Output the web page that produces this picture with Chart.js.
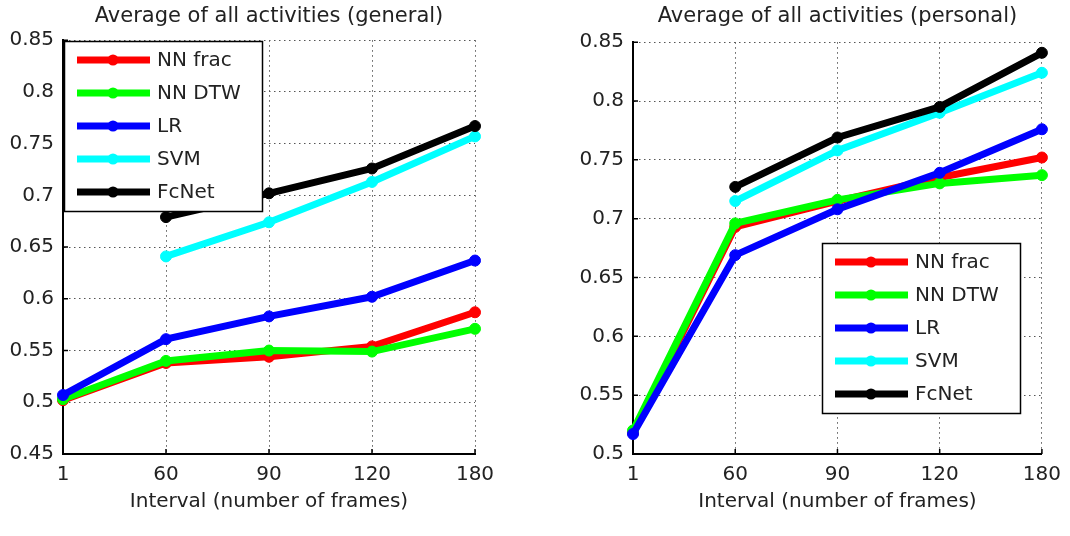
<!DOCTYPE html>
<html lang="en">
<head>
    <meta charset="UTF-8">
    <title>Average of all activities</title>
    <script src="https://cdn.jsdelivr.net/npm/chart.js"></script>
    <style>
        body { margin: 0; background: #fff; }
        .panel { position: absolute; top: 0; width: 535px; height: 536px; }
    </style>
</head>
<body>
    <div class="panel" style="left:0"><canvas id="generalChart"></canvas></div>
    <div class="panel" style="left:535px"><canvas id="personalChart"></canvas></div>

    <script>
        // Interval values (x axis categories)
        const intervals = ["1", "60", "90", "120", "180"];
        const seriesNames = ["NN frac", "NN DTW", "LR", "SVM", "FcNet"];
        const seriesColors = ["#ff0000", "#00ff00", "#0000ff", "#00ffff", "#000000"];

        // General model
        const generalNNfrac = [0.502, 0.538, 0.544, 0.554, 0.587];
        const generalNNdtw  = [0.503, 0.540, 0.550, 0.549, 0.571];
        const generalLR     = [0.507, 0.561, 0.583, 0.602, 0.637];
        const generalSVM    = [null, 0.641, 0.674, 0.713, 0.757];
        const generalFcNet  = [null, 0.679, 0.702, 0.726, 0.767];
        const generalYTicks = [0.45, 0.5, 0.55, 0.6, 0.65, 0.7, 0.75, 0.8, 0.85];

        // Personal model
        const personalNNfrac = [0.518, 0.693, 0.715, 0.735, 0.752];
        const personalNNdtw  = [0.520, 0.696, 0.716, 0.730, 0.737];
        const personalLR     = [0.517, 0.669, 0.708, 0.739, 0.776];
        const personalSVM    = [null, 0.715, 0.758, 0.790, 0.824];
        const personalFcNet  = [null, 0.727, 0.769, 0.795, 0.841];
        const personalYTicks = [0.5, 0.55, 0.6, 0.65, 0.7, 0.75, 0.8, 0.85];

        const FONT = "'DejaVu Sans', sans-serif";
        const DOTS = [1.5, 3.5];

        // legend drawn as a boxed MATLAB-style legend inside the plot area
        const boxLegend = {
            id: "boxLegend",
            afterDatasetsDraw(chart, args, opts) {
                const ctx = chart.ctx;
                const x = opts.x, y = opts.y, w = 198, h = 170;
                ctx.save();
                ctx.fillStyle = "#fff";
                ctx.fillRect(x, y, w, h);
                ctx.strokeStyle = "#000";
                ctx.lineWidth = 1.5;
                ctx.strokeRect(x + 0.5, y + 0.5, w, h);
                ctx.font = "20px " + FONT;
                ctx.textBaseline = "middle";
                chart.data.datasets.forEach((ds, i) => {
                    const cy = y + 19 + i * 33;
                    ctx.strokeStyle = ds.borderColor;
                    ctx.lineWidth = 7;
                    ctx.beginPath();
                    ctx.moveTo(x + 13, cy);
                    ctx.lineTo(x + 86, cy);
                    ctx.stroke();
                    ctx.fillStyle = ds.borderColor;
                    ctx.beginPath();
                    ctx.arc(x + 49, cy, 5.5, 0, Math.PI * 2);
                    ctx.fill();
                    ctx.fillStyle = "#222";
                    ctx.fillText(ds.label, x + 93, cy + 1);
                });
                ctx.restore();
            }
        };

        // small inward tick marks on the left and bottom axes
        const innerTicks = {
            id: "innerTicks",
            beforeDatasetsDraw(chart) {
                const ctx = chart.ctx, a = chart.chartArea;
                const xs = chart.scales.x, ys = chart.scales.y;
                ctx.save();
                ctx.strokeStyle = "#000";
                ctx.lineWidth = 1.5;
                ctx.beginPath();
                ys.ticks.forEach((t, i) => {
                    const py = ys.getPixelForTick(i);
                    ctx.moveTo(a.left, py);
                    ctx.lineTo(a.left + 5, py);
                });
                xs.ticks.forEach((t, i) => {
                    const px = xs.getPixelForTick(i);
                    ctx.moveTo(px, a.bottom);
                    ctx.lineTo(px, a.bottom - 5);
                });
                ctx.stroke();
                ctx.restore();
            }
        };

        function makeChart(id, title, values, yTicks, cfg) {
            const datasets = values.map((data, i) => ({
                label: seriesNames[i],
                data: data,
                borderColor: seriesColors[i],
                backgroundColor: seriesColors[i],
                borderWidth: 7,
                pointRadius: 5.5,
                pointHoverRadius: 5.5,
                pointBorderWidth: 1,
                order: values.length - i // later series on top, like MATLAB
            }));

            return new Chart(document.getElementById(id), {
                type: "line",
                data: { labels: intervals, datasets: datasets },
                options: {
                    responsive: true,
                    maintainAspectRatio: false,
                    animation: false,
                    layout: { padding: { left: 0, right: cfg.padRight, top: 4, bottom: 0 } },
                    plugins: {
                        legend: { display: false },
                        tooltip: { enabled: false },
                        title: {
                            display: true,
                            text: title,
                            fullSize: false,
                            color: "#222",
                            font: { family: FONT, size: 21, weight: "normal" },
                            padding: { top: 0, bottom: cfg.titleGap }
                        },
                        boxLegend: { x: cfg.legendX, y: cfg.legendY }
                    },
                    scales: {
                        x: {
                            type: "category",
                            offset: false,
                            afterFit: s => { s.height = 82; },
                            grid: { color: "#555", lineWidth: 1, drawTicks: false },
                            border: { display: true, color: "#000", width: 2, dash: DOTS },
                            ticks: { color: "#222", padding: 9, maxRotation: 0, font: { family: FONT, size: 20 } },
                            title: {
                                display: true,
                                text: "Interval (number of frames)",
                                color: "#222",
                                font: { family: FONT, size: 20 },
                                padding: { top: 0, bottom: 22 }
                            }
                        },
                        y: {
                            min: yTicks[0],
                            max: yTicks[yTicks.length - 1],
                            afterFit: s => { s.width = cfg.yWidth; },
                            afterBuildTicks: s => { s.ticks = yTicks.map(v => ({ value: v })); },
                            grid: { color: "#555", lineWidth: 1, drawTicks: false },
                            border: { display: true, color: "#000", width: 2, dash: DOTS },
                            ticks: {
                                color: "#222",
                                padding: 9,
                                font: { family: FONT, size: 20 },
                                callback: v => String(+v.toFixed(2))
                            }
                        }
                    }
                },
                plugins: [innerTicks, boxLegend]
            });
        }

        makeChart("generalChart", "Average of all activities (general)",
            [generalNNfrac, generalNNdtw, generalLR, generalSVM, generalFcNet], generalYTicks,
            { yWidth: 63, padRight: 60, titleGap: 11, legendX: 64, legendY: 41 });

        makeChart("personalChart", "Average of all activities (personal)",
            [personalNNfrac, personalNNdtw, personalLR, personalSVM, personalFcNet], personalYTicks,
            { yWidth: 98, padRight: 24, titleGap: 13, legendX: 287, legendY: 243 });
    </script>
</body>
</html>
